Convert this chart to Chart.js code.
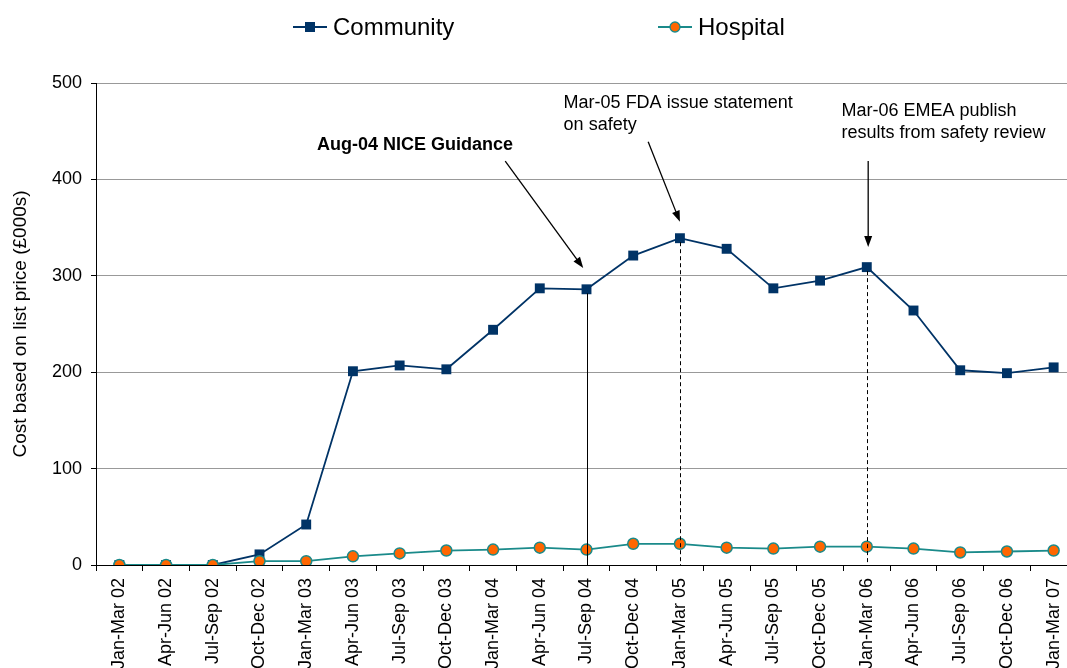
<!DOCTYPE html>
<html lang="en">
<head>
<meta charset="UTF-8">
<title>Community and Hospital cost</title>
<script src="https://cdn.jsdelivr.net/npm/chart.js@4"></script>
<style>
    html, body { margin: 0; padding: 0; background: #fff; overflow: hidden; }
    canvas { display: block; }
</style>
</head>
<body>
<canvas id="grafico" width="1084" height="700"></canvas>
<script>
const quarters = ['Jan-Mar 02', 'Apr-Jun 02', 'Jul-Sep 02', 'Oct-Dec 02', 'Jan-Mar 03', 'Apr-Jun 03',
    'Jul-Sep 03', 'Oct-Dec 03', 'Jan-Mar 04', 'Apr-Jun 04', 'Jul-Sep 04', 'Oct-Dec 04', 'Jan-Mar 05',
    'Apr-Jun 05', 'Jul-Sep 05', 'Oct-Dec 05', 'Jan-Mar 06', 'Apr-Jun 06', 'Jul-Sep 06', 'Oct-Dec 06', 'Jan-Mar 07'];
const community = [0, 0, 0, 11, 42, 201, 207, 203, 244, 287, 286, 321, 339, 328, 287, 295, 309, 264, 202, 199, 205];
const hospital = [0, 0, 0, 4, 4, 9, 12, 15, 16, 18, 16, 22, 22, 18, 17, 19, 19, 17, 13, 14, 15];
const yMin = 0, yMax = 500, yStep = 100;

// event notes, placed in data units (category index, value)
const notes = [
    { lines: ['Aug-04 NICE Guidance'], bold: true, at: [4.23, 430], from: [8.26, 419], to: [9.93, 308], mark: 10, dashed: false },
    { lines: ['Mar-05 FDA issue statement', 'on safety'], bold: false, at: [9.51, 474], from: [11.32, 439], to: [12.0, 356], mark: 12, dashed: true },
    { lines: ['Mar-06 EMEA publish', 'results from safety review'], bold: false, at: [15.46, 466], from: [16.03, 419], to: [16.03, 330], mark: 16, dashed: true }
];

const FONT = "'Liberation Sans', Arial, sans-serif";
const NAVY = '#003366';
const TEAL = '#1a8a8a';
const ORANGE = '#ff6600';

const notesPlugin = {
    id: 'notes',
    afterDatasetsDraw(chart) {
        const { ctx, scales: { x, y } } = chart;
        ctx.save();
        ctx.strokeStyle = '#000';
        ctx.fillStyle = '#000';
        ctx.lineWidth = 1;
        notes.forEach(n => {
            // line down from the community point to the axis
            const mx = Math.round(x.getPixelForValue(n.mark)) + 0.5;
            ctx.setLineDash(n.dashed ? [4, 3] : []);
            ctx.beginPath();
            ctx.moveTo(mx, y.getPixelForValue(community[n.mark]) + 4);
            ctx.lineTo(mx, y.getPixelForValue(0));
            ctx.stroke();
            ctx.setLineDash([]);

            // arrow
            const x1 = x.getPixelForValue(n.from[0]), y1 = y.getPixelForValue(n.from[1]);
            const x2 = x.getPixelForValue(n.to[0]), y2 = y.getPixelForValue(n.to[1]);
            const ang = Math.atan2(y2 - y1, x2 - x1);
            ctx.lineWidth = 1.3;
            ctx.beginPath();
            ctx.moveTo(x1, y1);
            ctx.lineTo(x2 - 8 * Math.cos(ang), y2 - 8 * Math.sin(ang));
            ctx.stroke();
            ctx.beginPath();
            ctx.moveTo(x2, y2);
            ctx.lineTo(x2 - 11 * Math.cos(ang) + 4 * Math.sin(ang), y2 - 11 * Math.sin(ang) - 4 * Math.cos(ang));
            ctx.lineTo(x2 - 11 * Math.cos(ang) - 4 * Math.sin(ang), y2 - 11 * Math.sin(ang) + 4 * Math.cos(ang));
            ctx.closePath();
            ctx.fill();
            ctx.lineWidth = 1;

            // text
            ctx.font = (n.bold ? 'bold ' : '') + '18px ' + FONT;
            ctx.textAlign = 'left';
            ctx.textBaseline = 'alphabetic';
            const tx = x.getPixelForValue(n.at[0]);
            const ty = y.getPixelForValue(n.at[1]);
            n.lines.forEach((t, i) => ctx.fillText(t, tx, ty + i * 22));
        });
        ctx.restore();
    }
};

const legendPlugin = {
    id: 'legendManual',
    afterDraw(chart) {
        const ctx = chart.ctx;
        const pos = [293, 658];
        const cy = 27;
        ctx.save();
        chart.data.datasets.forEach((ds, i) => {
            const lx = pos[i];
            ctx.strokeStyle = ds.borderColor;
            ctx.lineWidth = 1.8;
            ctx.beginPath();
            ctx.moveTo(lx, cy);
            ctx.lineTo(lx + 34, cy);
            ctx.stroke();
            ctx.fillStyle = ds.pointBackgroundColor;
            if (ds.pointStyle === 'rect') {
                ctx.fillRect(lx + 12, cy - 5, 10, 10);
            } else {
                ctx.beginPath();
                ctx.arc(lx + 17, cy, 5, 0, Math.PI * 2);
                ctx.fill();
                ctx.lineWidth = 1.3;
                ctx.strokeStyle = ds.pointBorderColor;
                ctx.stroke();
            }
            ctx.fillStyle = '#000';
            ctx.font = '24px ' + FONT;
            ctx.textBaseline = 'middle';
            ctx.fillText(ds.label, lx + 40, cy + 1);
        });
        ctx.restore();
    }
};

new Chart(document.getElementById('grafico'), {
    type: 'line',
    data: {
        labels: quarters,
        datasets: [
            {
                label: 'Community',
                data: community,
                borderColor: NAVY,
                borderWidth: 1.8,
                pointStyle: 'rect',
                pointRadius: 7,
                pointBackgroundColor: NAVY,
                pointBorderColor: NAVY,
                pointBorderWidth: 0,
                tension: 0,
                order: 1
            },
            {
                label: 'Hospital',
                data: hospital,
                borderColor: TEAL,
                borderWidth: 1.8,
                pointStyle: 'circle',
                pointRadius: 5.5,
                pointBackgroundColor: ORANGE,
                pointBorderColor: TEAL,
                pointBorderWidth: 1.5,
                tension: 0,
                order: 0
            }
        ]
    },
    options: {
        responsive: false,
        animation: false,
        events: [],
        layout: { padding: { top: 83, right: 0, left: 0, bottom: 0 } },
        plugins: {
            legend: { display: false },
            tooltip: { enabled: false }
        },
        scales: {
            x: {
                offset: true,
                grid: { display: true, offset: true, drawOnChartArea: false, drawTicks: true, tickLength: 6, color: '#000' },
                border: { display: true, color: '#000', width: 1 },
                ticks: { autoSkip: false, minRotation: 90, maxRotation: 90, padding: 7, color: '#000', font: { family: FONT, size: 18 } },
                afterFit: s => { s.height = 700 - 565; }
            },
            y: {
                min: yMin,
                max: yMax,
                ticks: { stepSize: yStep, padding: 9, color: '#000', font: { family: FONT, size: 18 } },
                grid: {
                    color: c => c.tick && c.tick.value === 0 ? '#000' : '#999',
                    tickColor: '#000',
                    tickLength: 5
                },
                border: { display: true, color: '#000', width: 1 },
                title: { display: true, text: 'Cost based on list price (£000s)', color: '#000', padding: { top: 9, bottom: 0 }, font: { family: FONT, size: 19 } },
                afterFit: s => { s.width = 96; }
            }
        }
    },
    plugins: [notesPlugin, legendPlugin]
});
</script>
</body>
</html>
